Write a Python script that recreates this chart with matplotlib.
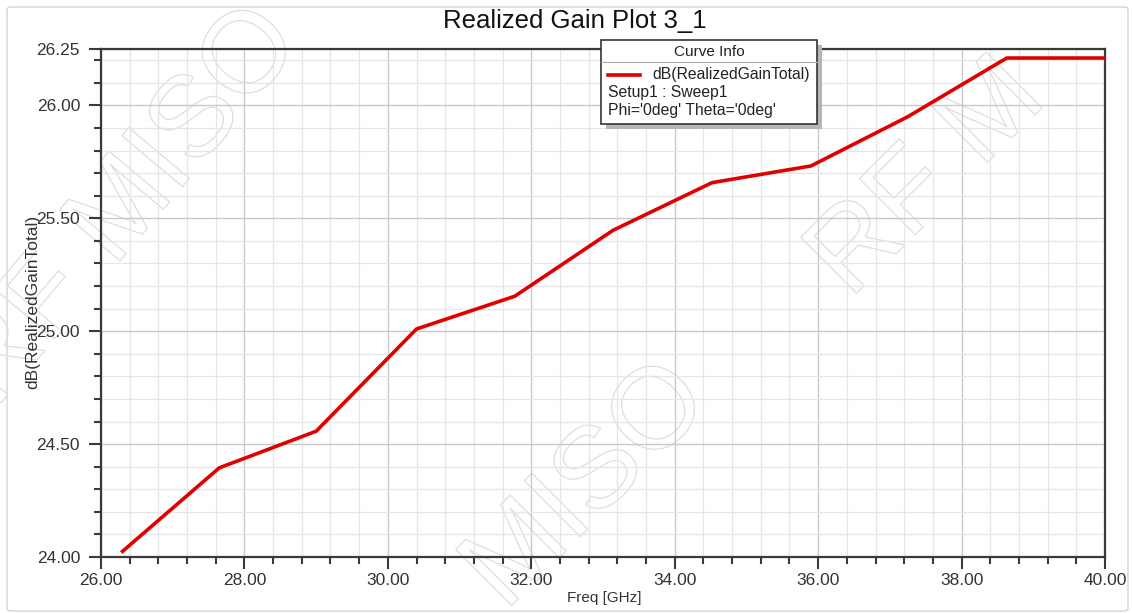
import matplotlib
matplotlib.use("Agg")
import matplotlib.pyplot as plt
from matplotlib.patches import Rectangle, FancyBboxPatch, PathPatch
from matplotlib.textpath import TextPath
from matplotlib.ticker import MultipleLocator, FormatStrFormatter
import matplotlib.transforms as mtransforms

plt.rcParams['font.family'] = ['Liberation Sans', 'DejaVu Sans']

# data
freq = [26.30, 27.65, 29.00, 30.40, 31.77, 33.14, 34.52, 35.90, 37.25, 38.63, 40.00]
gain = [24.025, 24.395, 24.557, 25.01, 25.155, 25.447, 25.658, 25.732, 25.95, 26.21, 26.21]

title = "Realized Gain Plot 3_1"
xlabel = "Freq [GHz]"
ylabel = "dB(RealizedGainTotal)"
legend_lines = ["dB(RealizedGainTotal)", "Setup1 : Sweep1", "Phi='0deg' Theta='0deg'"]

W, H = 1132, 613
fig = plt.figure(figsize=(W / 100, H / 100), dpi=100)
fig.patch.set_facecolor('white')

def fx(px):
    return px / W

def fy(py):
    return 1 - py / H

# outer frame
fig.patches.append(FancyBboxPatch((fx(7), fy(611)), fx(1128) - fx(7), fy(7) - fy(611),
                                  boxstyle="round,pad=0,rounding_size=0.004",
                                  transform=fig.transFigure, facecolor='none',
                                  edgecolor='#d4d4d4', linewidth=1.0, zorder=-2))

ax = fig.add_axes([fx(101), fy(557), fx(1105) - fx(101), fy(49) - fy(557)])
ax.patch.set_alpha(0)
ax.set_xlim(26, 40)
ax.set_ylim(24, 26.25)

ax.xaxis.set_major_locator(MultipleLocator(2))
ax.xaxis.set_minor_locator(MultipleLocator(0.4))
ax.yaxis.set_minor_locator(MultipleLocator(0.1))
ax.set_yticks([24.0, 24.5, 25.0, 25.5, 26.0, 26.25])
ax.xaxis.set_major_formatter(FormatStrFormatter('%.2f'))
ax.yaxis.set_major_formatter(FormatStrFormatter('%.2f'))

ax.grid(which='minor', color='#e6e6e6', linewidth=0.9)
ax.grid(which='major', color='#c9c9c9', linewidth=1.0)
ax.set_axisbelow(True)

for s in ax.spines.values():
    s.set_color('#3a3a3a')
    s.set_linewidth(1.6)

ax.tick_params(which='major', direction='out', length=8.6, width=1.5, color='#3a3a3a',
               labelsize=12.5, labelcolor='#333333')
ax.tick_params(axis='y', which='major', pad=6.5)
ax.tick_params(axis='x', which='major', pad=3)
ax.tick_params(which='minor', direction='out', length=5, width=1.5, color='#3a3a3a')

ax.plot(freq, gain, color='#e00000', linewidth=2.6, solid_joinstyle='round', zorder=3)

fig.text(fx(575), fy(21), title, ha='center', va='center', fontsize=18.5, color='#111111')
fig.text(fx(604), fy(598), xlabel, ha='center', va='center', fontsize=11, color='#333333')
fig.text(fx(33), fy(302), ylabel, ha='center', va='center', rotation=90,
         fontsize=12.5, color='#333333')

# faint watermark outlines, kept behind the axes
def watermark(s, x, y, size, angle):
    tp = TextPath((0, 0), s, size=size, prop={'family': 'Liberation Sans'})
    tr = mtransforms.Affine2D().rotate_deg(angle).translate(x, H - y)
    p = PathPatch(tr.transform_path(tp), facecolor='none', edgecolor='#dedede',
                  linewidth=0.9, transform=mtransforms.IdentityTransform(), zorder=-1)
    fig.patches.append(p)

watermark("RF MISO", -5, 410, 115, 50)
watermark("MISO", 505, 612, 115, 45)
watermark("RF M", 850, 300, 115, 45)

# curve info box with shadow
bx0, by0, bx1, by1 = 601, 40, 817, 124
fig.patches.append(Rectangle((fx(bx0 + 5), fy(by1 + 5)), fx(bx1) - fx(bx0), fy(by0) - fy(by1),
                             transform=fig.transFigure, facecolor='#b5b5b5',
                             edgecolor='none', zorder=6))
fig.patches.append(Rectangle((fx(bx0), fy(by1)), fx(bx1) - fx(bx0), fy(by0) - fy(by1),
                             transform=fig.transFigure, facecolor='white',
                             edgecolor='#333333', linewidth=1.2, zorder=7))
fig.lines.append(plt.Line2D([fx(bx0), fx(bx1)], [fy(62), fy(62)], transform=fig.transFigure,
                            color='#aaaaaa', linewidth=0.8, zorder=8))
fig.text(fx(709), fy(52), "Curve Info", ha='center', va='center', fontsize=11,
         color='#222222', zorder=9)
fig.lines.append(plt.Line2D([fx(608), fx(640)], [fy(75), fy(75)], transform=fig.transFigure,
                            color='#e00000', linewidth=2.6, zorder=8))
fig.text(fx(652), fy(75), legend_lines[0], ha='left', va='center', fontsize=11.3,
         color='#222222', zorder=9)
fig.text(fx(608), fy(93), legend_lines[1], ha='left', va='center', fontsize=11.3,
         color='#222222', zorder=9)
fig.text(fx(608), fy(110), legend_lines[2], ha='left', va='center', fontsize=11.3,
         color='#222222', zorder=9)

fig.savefig("out.png", dpi=100)
